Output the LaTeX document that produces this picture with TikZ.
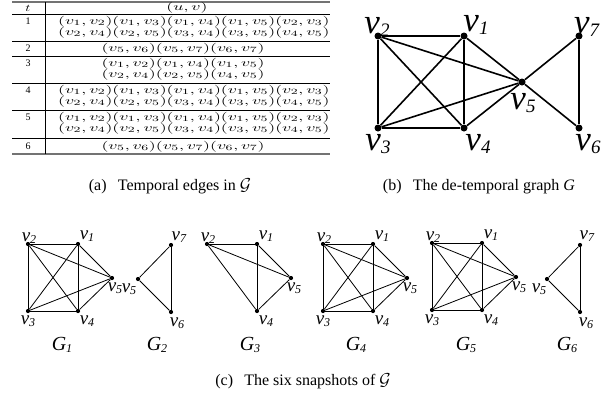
\documentclass[tikz,border=0pt]{standalone}
\usepackage[no-math]{fontspec}
\setmainfont{Liberation Serif}
\usepackage{graphicx}
\newcommand{\tabtxt}[1]{\scalebox{1.62}[1]{\fontsize{11}{11}\selectfont$#1$}}
\newcommand{\sv}[1]{\textit{v}\raisebox{-2.3pt}{\fontsize{12}{12}\selectfont\textit{#1}}}
\newcommand{\bv}[1]{\textit{v}\raisebox{-3.3pt}{\fontsize{19}{19}\selectfont\textit{#1}}}
\newcommand{\gl}[1]{\textit{G}\raisebox{-2.5pt}{\fontsize{12}{12}\selectfont\textit{#1}}}
\newcommand{\longA}{(v_1, v_2)(v_1, v_3)(v_1, v_4)(v_1, v_5)(v_2, v_3)}
\newcommand{\longB}{(v_2, v_4)(v_2, v_5)(v_3, v_4)(v_3, v_5)(v_4, v_5)}
\newcommand{\shortC}{(v_5, v_6)(v_5, v_7)(v_6, v_7)}
\tikzset{
  bigdot/.style={circle, fill=black, inner sep=0pt, minimum size=7pt},
  smalldot/.style={circle, fill=black, inner sep=0pt, minimum size=4.2pt},
  bigedge/.style={line width=1.6pt},
  smalledge/.style={line width=0.8pt},
  biglab/.style={anchor=base, inner sep=0pt, font=\fontsize{35}{35}\selectfont},
  smalllab/.style={anchor=base, inner sep=0pt, font=\fontsize{19}{19}\selectfont},
  glab/.style={anchor=base, inner sep=0pt, font=\fontsize{20}{20}\selectfont},
  captxt/.style={anchor=base, inner sep=0pt, font=\fontsize{16}{16}\selectfont},
  numtxt/.style={inner sep=0pt, font=\fontsize{10}{10}\selectfont},
  rowtxt/.style={inner sep=0pt},
  midrule/.style={line width=0.8pt},
  outerrule/.style={line width=1.6pt, black!55},
}
\begin{document}
\begin{tikzpicture}[x=1pt,y=-1pt]
\useasboundingbox (0,0) rectangle (613,400);

% ---------------- table ----------------
\coordinate (tl) at (12,2);
\coordinate (tr) at (330,2);
\draw[outerrule] (12,2) -- (330,2);
\foreach \yy in {14,41,56,83,110,138} {\draw[midrule] (12,\yy) -- (330,\yy);}
\draw[outerrule] (12,154) -- (330,154);
\draw[line width=0.8pt] (45,2) -- (45,154);

\node[numtxt] (th) at (28,8) {\scalebox{1.4}[1]{$t$}};
\node[rowtxt] (uh) at (187,8) {\tabtxt{(u, v)}};

\node[numtxt] (n1) at (28,21) {1};
\node[rowtxt, anchor=west] (r1a) at (58,21.5) {\tabtxt{\longA}};
\node[rowtxt, anchor=west] (r1b) at (58,32.5) {\tabtxt{\longB}};

\node[numtxt] (n2) at (28,48) {2};
\node[rowtxt] (r2a) at (183,48.5) {\tabtxt{\shortC}};

\node[numtxt] (n3) at (28,63) {3};
\node[rowtxt] (r3a) at (183,63.5) {\tabtxt{(v_1, v_2)(v_1, v_4)(v_1, v_5)}};
\node[rowtxt] (r3b) at (183,74.5) {\tabtxt{(v_2, v_4)(v_2, v_5)(v_4, v_5)}};

\node[numtxt] (n4) at (28,90) {4};
\node[rowtxt, anchor=west] (r4a) at (58,90.5) {\tabtxt{\longA}};
\node[rowtxt, anchor=west] (r4b) at (58,101.5) {\tabtxt{\longB}};

\node[numtxt] (n5) at (28,117) {5};
\node[rowtxt, anchor=west] (r5a) at (58,117.5) {\tabtxt{\longA}};
\node[rowtxt, anchor=west] (r5b) at (58,128.5) {\tabtxt{\longB}};

\node[numtxt] (n6) at (28,146) {6};
\node[rowtxt] (r6a) at (183,146.5) {\tabtxt{\shortC}};

\node[captxt] (capa) at (170,190) {(a)\hspace{0.45em} Temporal edges in $\mathcal{G}$};

% ---------------- big graph ----------------
\node[bigdot] (b2) at (378,36) {};
\node[bigdot] (b1) at (464,36) {};
\node[bigdot] (b5) at (522,82) {};
\node[bigdot] (b7) at (579,36) {};
\node[bigdot] (b3) at (378,128) {};
\node[bigdot] (b4) at (464,128) {};
\node[bigdot] (b6) at (579,128) {};
\foreach \a/\b in {b2/b1,b2/b3,b2/b4,b2/b5,b1/b3,b1/b4,b1/b5,b3/b4,b3/b5,b4/b5,b5/b7,b5/b6,b7/b6}
  {\draw[bigedge] (\a) -- (\b);}
\node[biglab] (lb2) at (377,33) {\bv{2}};
\node[biglab] (lb1) at (476,31) {\bv{1}};
\node[biglab] (lb7) at (587,33) {\bv{7}};
\node[biglab] (lb5) at (523,109) {\bv{5}};
\node[biglab] (lb3) at (378,150) {\bv{3}};
\node[biglab] (lb4) at (478,150) {\bv{4}};
\node[biglab] (lb6) at (588,150) {\bv{6}};
\node[captxt] (capb) at (479,190) {(b)\hspace{0.45em} The de-temporal graph \textit{G}};

% ---------------- snapshots ----------------
% G1
\node[smalldot] (p2) at (28,244) {};
\node[smalldot] (p1) at (78,244) {};
\node[smalldot] (p5) at (112,278) {};
\node[smalldot] (p3) at (28,311) {};
\node[smalldot] (p4) at (78,311) {};
\foreach \a/\b in {p1/p2,p1/p3,p1/p4,p1/p5,p2/p3,p2/p4,p2/p5,p3/p4,p3/p5,p4/p5}
  {\draw[smalledge] (\a) -- (\b);}
\node[smalllab] (lp2) at (29,241) {\sv{2}};
\node[smalllab] (lp1) at (87,239) {\sv{1}};
\node[smalllab] (lp5) at (115,291) {\sv{5}};
\node[smalllab] (lp3) at (28,324) {\sv{3}};
\node[smalllab] (lp4) at (87,324) {\sv{4}};
\node[glab] (G1) at (62,350) {\gl{1}};

% G2
\node[smalldot] (q5) at (138,279) {};
\node[smalldot] (q7) at (171,245) {};
\node[smalldot] (q6) at (171,312) {};
\foreach \a/\b in {q5/q7,q5/q6,q7/q6} {\draw[smalledge] (\a) -- (\b);}
\node[smalllab] (lq5) at (129,292) {\sv{5}};
\node[smalllab] (lq7) at (179,240) {\sv{7}};
\node[smalllab] (lq6) at (177,326) {\sv{6}};
\node[glab] (G2) at (157,350) {\gl{2}};

% G3
\node[smalldot] (r2) at (207,244) {};
\node[smalldot] (r1) at (257,244) {};
\node[smalldot] (r5) at (291,278) {};
\node[smalldot] (r4) at (257,311) {};
\foreach \a/\b in {r1/r2,r1/r4,r1/r5,r2/r4,r2/r5,r4/r5} {\draw[smalledge] (\a) -- (\b);}
\node[smalllab] (lr2) at (208,241) {\sv{2}};
\node[smalllab] (lr1) at (266,239) {\sv{1}};
\node[smalllab] (lr5) at (294,291) {\sv{5}};
\node[smalllab] (lr4) at (266,324) {\sv{4}};
\node[glab] (G3) at (250,350) {\gl{3}};

% G4
\node[smalldot] (s2) at (323,244) {};
\node[smalldot] (s1) at (373,244) {};
\node[smalldot] (s5) at (407,278) {};
\node[smalldot] (s3) at (323,311) {};
\node[smalldot] (s4) at (373,311) {};
\foreach \a/\b in {s1/s2,s1/s3,s1/s4,s1/s5,s2/s3,s2/s4,s2/s5,s3/s4,s3/s5,s4/s5}
  {\draw[smalledge] (\a) -- (\b);}
\node[smalllab] (ls2) at (324,241) {\sv{2}};
\node[smalllab] (ls1) at (382,239) {\sv{1}};
\node[smalllab] (ls5) at (410,291) {\sv{5}};
\node[smalllab] (ls3) at (323,324) {\sv{3}};
\node[smalllab] (ls4) at (382,324) {\sv{4}};
\node[glab] (G4) at (356,350) {\gl{4}};

% G5
\node[smalldot] (u2) at (432,243) {};
\node[smalldot] (u1) at (482,243) {};
\node[smalldot] (u5) at (516,277) {};
\node[smalldot] (u3) at (432,310) {};
\node[smalldot] (u4) at (482,310) {};
\foreach \a/\b in {u1/u2,u1/u3,u1/u4,u1/u5,u2/u3,u2/u4,u2/u5,u3/u4,u3/u5,u4/u5}
  {\draw[smalledge] (\a) -- (\b);}
\node[smalllab] (lu2) at (433,240) {\sv{2}};
\node[smalllab] (lu1) at (491,238) {\sv{1}};
\node[smalllab] (lu5) at (519,290) {\sv{5}};
\node[smalllab] (lu3) at (432,323) {\sv{3}};
\node[smalllab] (lu4) at (491,323) {\sv{4}};
\node[glab] (G5) at (466,350) {\gl{5}};

% G6
\node[smalldot] (w5) at (547,279) {};
\node[smalldot] (w7) at (580,245) {};
\node[smalldot] (w6) at (580,312) {};
\foreach \a/\b in {w5/w7,w5/w6,w7/w6} {\draw[smalledge] (\a) -- (\b);}
\node[smalllab] (lw5) at (539,292) {\sv{5}};
\node[smalllab] (lw7) at (587,239) {\sv{7}};
\node[smalllab] (lw6) at (586,326) {\sv{6}};
\node[glab] (G6) at (567,350) {\gl{6}};

\node[captxt] (capc) at (303,385) {(c)\hspace{0.45em} The six snapshots of $\mathcal{G}$};
\end{tikzpicture}
\end{document}
